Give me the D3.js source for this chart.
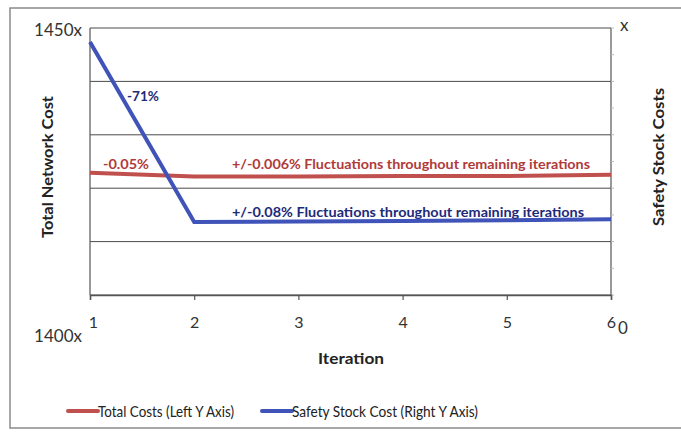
<!DOCTYPE html>
<html>
<head>
<meta charset="utf-8">
<script src="https://cdn.jsdelivr.net/npm/d3@7"></script>
<style>
  html, body { margin: 0; padding: 0; background: #fff; }
  svg { display: block; }
</style>
</head>
<body>
<svg id="chart" width="681" height="438"></svg>
<script>
// Iterations on the x axis
const iterations = [1, 2, 3, 4, 5, 6];
// Total network cost (left axis, scaled units)
const totalCosts = [1422.9, 1422.2, 1422.2, 1422.3, 1422.3, 1422.5];
// Safety stock cost (right axis, % of axis maximum)
const safetyStock = [94.8, 27.3, 27.5, 27.7, 28.0, 28.4];
// Axis tick values
const leftTicks = [1400, 1410, 1420, 1430, 1440, 1450];
const rightTicks = [0, 10, 20, 30, 40, 50, 60, 70, 80, 90, 100];

const red = "#C0504D";
const blue = "#3F53B8";
const navy = "#1E2A78";
const font = "Lato, 'Open Sans', sans-serif";

const svg = d3.select("#chart");
const m = { left: 90, right: 611, top: 28, bottom: 295 };

// Outer chart frame
svg.append("rect").attr("x", 10).attr("y", 8).attr("width", 700).attr("height", 420)
  .attr("fill", "#fff").attr("stroke", "#8a8a8a").attr("stroke-width", 1.5);

const x = d3.scaleLinear().domain([1, 6]).range([m.left, m.right]);
const yL = d3.scaleLinear().domain([1400, 1450]).range([m.bottom, m.top]);
const yR = d3.scaleLinear().domain([0, 100]).range([m.bottom, m.top]);

// Horizontal gridlines
svg.append("g").selectAll("line").data(leftTicks).join("line")
  .attr("x1", m.left).attr("x2", m.right)
  .attr("y1", d => yL(d)).attr("y2", d => yL(d))
  .attr("stroke", "#4a4a4a").attr("stroke-width", 1);

// Left and right axis lines
svg.append("line").attr("x1", m.left).attr("x2", m.left).attr("y1", m.top).attr("y2", m.bottom)
  .attr("stroke", "#555").attr("stroke-width", 1.2);
svg.append("line").attr("x1", m.right).attr("x2", m.right).attr("y1", m.top).attr("y2", m.bottom)
  .attr("stroke", "#555").attr("stroke-width", 1.2);

// Faint right axis ticks
svg.append("g").selectAll("line").data(rightTicks).join("line")
  .attr("x1", m.right).attr("x2", m.right + 3)
  .attr("y1", d => yR(d)).attr("y2", d => yR(d))
  .attr("stroke", "#bbb").attr("stroke-width", 1);

// Bottom axis
const xAxis = svg.append("g").attr("transform", `translate(0,${m.bottom})`)
  .call(d3.axisBottom(x).tickValues(iterations).tickFormat(d3.format("d")).tickSize(5).tickPadding(17));
xAxis.select(".domain").attr("stroke", "#555").attr("stroke-width", 1.5);
xAxis.selectAll(".tick line").attr("stroke", "#555").attr("stroke-width", 1.2);
xAxis.selectAll(".tick text").attr("font-family", font).attr("font-size", 16).attr("fill", "#333")
  .attr("dx", d => d === 1 ? 3 : 0);

// Axis end labels
const endLabel = (tx, ty, t, anchor) => svg.append("text").attr("x", tx).attr("y", ty)
  .attr("text-anchor", anchor).attr("font-family", font).attr("font-size", 17).attr("fill", "#333").text(t);
endLabel(82, 36, "1450x", "end");
endLabel(82, 342, "1400x", "end");
endLabel(620, 31, "x", "start");
endLabel(618, 334, "0", "start");

// Axis titles
const title = (transform, t, len) => svg.append("text").attr("transform", transform)
  .attr("text-anchor", "middle").attr("font-family", font).attr("font-weight", "bold")
  .attr("font-size", 15).attr("fill", "#222")
  .attr("textLength", len).attr("lengthAdjust", "spacingAndGlyphs").text(t);
title("translate(53,167) rotate(-90)", "Total Network Cost", 142);
title("translate(664,157) rotate(-90)", "Safety Stock Costs", 138);
title("translate(351,364)", "Iteration", 66);

// Series lines
const lineL = d3.line().x((d, i) => x(iterations[i])).y(d => yL(d));
const lineR = d3.line().x((d, i) => x(iterations[i])).y(d => yR(d));
svg.append("path").attr("d", lineL(totalCosts)).attr("fill", "none")
  .attr("stroke", red).attr("stroke-width", 4);
svg.append("path").attr("d", lineR(safetyStock)).attr("fill", "none")
  .attr("stroke", blue).attr("stroke-width", 4);

// Annotations
const note = (tx, ty, t, color, len) => {
  const el = svg.append("text").attr("x", tx).attr("y", ty)
    .attr("font-family", font).attr("font-weight", "bold").attr("font-size", 13)
    .attr("fill", color).text(t);
  if (len) el.attr("textLength", len).attr("lengthAdjust", "spacingAndGlyphs");
};
note(127, 101, "-71%", navy, 32);
note(103, 169, "-0.05%", "#B03A3A", 46);
note(232, 169, "+/-0.006% Fluctuations throughout remaining iterations", "#B03A3A", 358);
note(232, 217, "+/-0.08% Fluctuations throughout remaining iterations", navy, 352);

// Legend
const legend = [
  { label: "Total Costs (Left Y Axis)", color: red, x0: 68, len: 136 },
  { label: "Safety Stock Cost (Right Y Axis)", color: blue, x0: 262, len: 186 }
];
const lg = svg.append("g");
legend.forEach(d => {
  lg.append("line").attr("x1", d.x0).attr("x2", d.x0 + 30).attr("y1", 411).attr("y2", 411)
    .attr("stroke", d.color).attr("stroke-width", 4).attr("stroke-linecap", "round");
  lg.append("text").attr("x", d.x0 + 30).attr("y", 417).attr("font-family", font)
    .attr("font-size", 16).attr("fill", "#222")
    .attr("textLength", d.len).attr("lengthAdjust", "spacingAndGlyphs").text(d.label);
});
</script>
</body>
</html>
